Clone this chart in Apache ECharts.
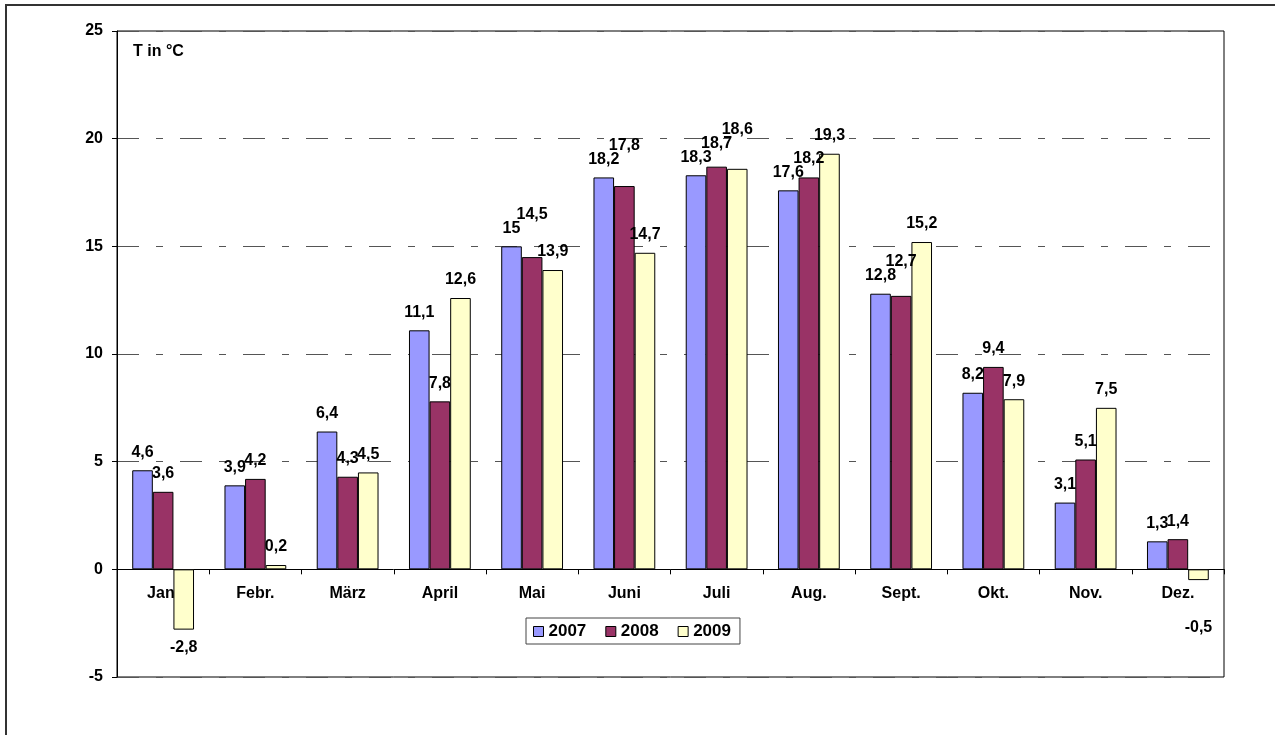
<!DOCTYPE html>
<html>
<head>
<meta charset="utf-8">
<script src="https://cdn.jsdelivr.net/npm/echarts@6/dist/echarts.min.js"></script>
<style>
  html, body { margin: 0; padding: 0; background: #fff; }
  #main { width: 1275px; height: 735px; }
</style>
</head>
<body>
<div id="main"></div>
<script>
// monthly mean temperatures
const months = ['Jan.', 'Febr.', 'März', 'April', 'Mai', 'Juni', 'Juli', 'Aug.', 'Sept.', 'Okt.', 'Nov.', 'Dez.'];
const t2007 = [4.6, 3.9, 6.4, 11.1, 15, 18.2, 18.3, 17.6, 12.8, 8.2, 3.1, 1.3];
const t2008 = [3.6, 4.2, 4.3, 7.8, 14.5, 17.8, 18.7, 18.2, 12.7, 9.4, 5.1, 1.4];
const t2009 = [-2.8, 0.2, 4.5, 12.6, 13.9, 14.7, 18.6, 19.3, 15.2, 7.9, 7.5, -0.5];
const years = ['2007', '2008', '2009'];
const colors = ['#9999FF', '#993366', '#FFFFCC'];

const font = 'Liberation Sans, Arial, sans-serif';
const yMin = -5, yMax = 25;
const gridTop = 31, gridBottom = 58, chartH = 735;
const pxPerUnit = (chartH - gridTop - gridBottom) / (yMax - yMin);
// move the category axis up to the zero line
const zeroOffset = pxPerUnit * (0 - yMin);

// value labels of one month are lifted when they would run into each other
const placed = {};
function avoidOverlap(params) {
    const r = params.labelRect;
    const list = placed[params.dataIndex] = placed[params.dataIndex] || [];
    const others = list.filter((o, i) => o && i < params.seriesIndex && o.up);
    const up = params.labelRect.y < params.rect.y + 1;
    let y = r.y;
    let moved = up;
    while (moved) {
        moved = false;
        for (const o of others) {
            if (r.x + 3 < o.x + o.width && o.x + 3 < r.x + r.width &&
                y + 2 < o.y + o.height && o.y + 2 < y + r.height) {
                y = o.y - r.height + 2;
                moved = true;
            }
        }
    }
    list[params.seriesIndex] = { x: r.x, y: y, width: r.width, height: r.height, up: up };
    return { dy: y - r.y };
}

function toItems(arr) {
    return arr.map(v => ({
        value: v,
        // negative labels are kept clear of the month names
        label: v < 0
            ? { position: 'bottom', distance: Math.max(10, 50 - Math.abs(v) * pxPerUnit) }
            : { position: 'top' }
    }));
}

function makeSeries(name, arr, color) {
    return {
        name: name,
        type: 'bar',
        data: toItems(arr),
        barGap: '0%',
        barCategoryGap: '33%',
        itemStyle: { color: color, borderColor: '#000', borderWidth: 1 },
        label: {
            show: true,
            distance: 10,
            color: '#000',
            fontFamily: font,
            fontWeight: 'bold',
            fontSize: 16,
            formatter: p => String(p.value).replace('.', ',')
        },
        labelLayout: avoidOverlap
    };
}

const myChart = echarts.init(document.getElementById('main'));
myChart.setOption({
    animation: false,
    backgroundColor: '#fff',
    grid: {
        left: 117, right: 51, top: gridTop, bottom: gridBottom,
        show: true, borderColor: '#000', borderWidth: 1,
        containLabel: false, outerBoundsMode: 'none'
    },
    legend: {
        data: years,
        left: 526, top: 618,
        padding: [5, 9, 4, 7],
        borderColor: '#444', borderWidth: 1,
        itemWidth: 10, itemHeight: 10, itemGap: 19,
        icon: 'rect',
        itemStyle: { borderColor: '#000', borderWidth: 1 },
        textStyle: { fontFamily: font, fontWeight: 'bold', fontSize: 17, color: '#000' }
    },
    xAxis: {
        type: 'category',
        data: months,
        offset: -zeroOffset,
        axisLine: { onZero: false, lineStyle: { color: '#000', width: 1 } },
        axisTick: { show: true, length: 5, lineStyle: { color: '#000' } },
        axisLabel: { margin: 16, color: '#000', fontFamily: font, fontWeight: 'bold', fontSize: 16 },
        splitLine: { show: false }
    },
    yAxis: {
        type: 'value',
        min: yMin, max: yMax, interval: 5,
        axisLine: { show: true, lineStyle: { color: '#000', width: 1 } },
        axisTick: { show: true, length: 5, lineStyle: { color: '#000' } },
        axisLabel: { margin: 14, color: '#000', fontFamily: font, fontWeight: 'bold', fontSize: 16 },
        splitLine: { show: true, lineStyle: { color: '#555', width: 1, type: [22, 17, 7, 17] } }
    },
    graphic: [
        {
            type: 'rect', silent: true,
            shape: { x: 6, y: 5, width: 1400, height: 900 },
            style: { fill: 'none', stroke: '#333', lineWidth: 2 }
        },
        {
            type: 'text', left: 133, top: 44,
            style: { text: 'T in °C', font: 'bold 16px ' + font, fill: '#000' }
        }
    ],
    series: [
        makeSeries(years[0], t2007, colors[0]),
        makeSeries(years[1], t2008, colors[1]),
        makeSeries(years[2], t2009, colors[2])
    ]
});
</script>
</body>
</html>
